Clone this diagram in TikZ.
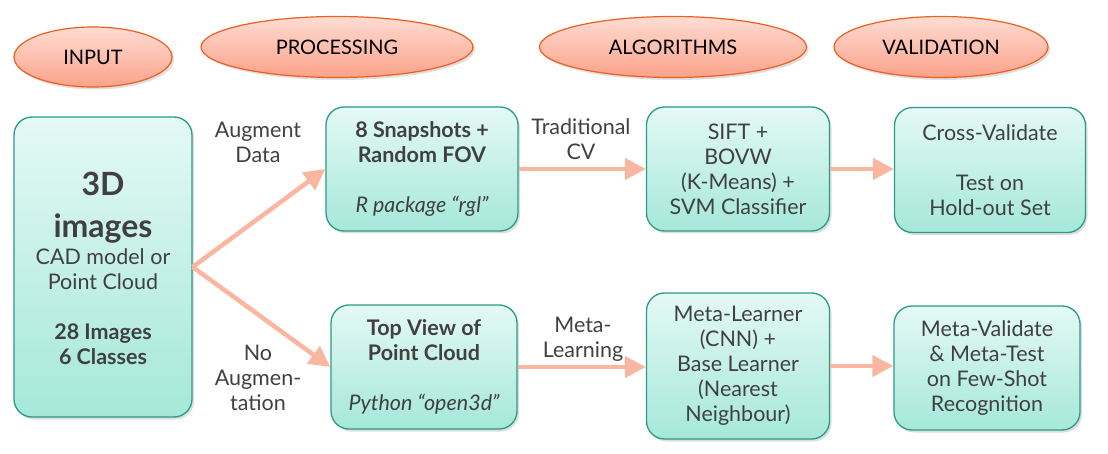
\documentclass[tikz,border=0pt]{standalone}
\usepackage{fontspec}
\setmainfont{Lato}
\usetikzlibrary{shapes.geometric,shadows,arrows.meta}
\definecolor{boxtop}{HTML}{E4F9F5}
\definecolor{boxbot}{HTML}{A5E8D9}
\definecolor{boxline}{HTML}{2A9B86}
\definecolor{elltop}{HTML}{FFDCD3}
\definecolor{ellbot}{HTML}{FBA28A}
\definecolor{elline}{HTML}{EE5E1C}
\definecolor{arr}{HTML}{FBB6A1}
\definecolor{txt}{HTML}{404040}
\newcommand{\bigtxt}[1]{{\fontsize{32}{40}\selectfont\bfseries #1}}
\tikzset{
  stagebox/.style={rounded corners=18pt, draw=boxline, line width=1.3pt,
    top color=boxtop, bottom color=boxbot, align=center, text=txt,
    font=\fontsize{21.5}{25}\selectfont, inner sep=0pt,
    drop shadow={shadow xshift=2pt, shadow yshift=-2.5pt, opacity=0.25}},
  phase/.style={ellipse, draw=elline, line width=1.2pt, top color=elltop,
    bottom color=ellbot, text=black, font=\fontsize{20}{22}\selectfont,
    inner sep=0pt, drop shadow={shadow xshift=2pt, shadow yshift=-2.5pt, opacity=0.25}},
  lbl/.style={align=center, text=txt, font=\fontsize{21.5}{25}\selectfont, inner sep=0pt},
  flow/.style={draw=arr, line width=4.5pt, -{Triangle[length=21pt,width=21pt]}}
}
\begin{document}
\begin{tikzpicture}[x=1pt,y=-1pt]
\useasboundingbox (0,0) rectangle (1108,454);
% phase ellipses
\node[phase, minimum width=158pt, minimum height=60pt] (e1) at (93,57) {INPUT};
\node[phase, minimum width=272pt, minimum height=61pt] (e2) at (337,47) {PROCESSING};
\node[phase, minimum width=267pt, minimum height=61pt] (e3) at (673,47) {ALGORITHMS};
\node[phase, minimum width=214pt, minimum height=61pt] (e4) at (941,47) {VALIDATION};
% boxes
\node[stagebox, minimum width=178pt, minimum height=300pt] (inp) at (103,267) {};
\node[align=center, text=txt, font=\fontsize{21.5}{25}\selectfont, inner sep=0pt] (inptxt) at (103,268)
  {\bigtxt{3D}\\[17pt]\bigtxt{images}\\[2pt]CAD model or\\Point Cloud\\[25pt]\textbf{28 Images}\\\textbf{6 Classes}};
\node[stagebox, minimum width=192pt, minimum height=124pt] (p1) at (422,169)
  {\textbf{8 Snapshots +}\\\textbf{Random FOV}\\[25pt]\textit{R package “rgl”}};
\node[stagebox, minimum width=186pt, minimum height=124pt] (p2) at (424,367)
  {\textbf{Top View of}\\\textbf{Point Cloud}\\[25pt]\textit{Python “open3d”}};
\node[stagebox, minimum width=183pt, minimum height=124pt] (a1) at (738,169)
  {SIFT +\\BOVW\\(K-Means) +\\SVM Classifier};
\node[stagebox, minimum width=183pt, minimum height=146pt] (a2) at (738,366)
  {Meta-Learner\\(CNN) +\\Base Learner\\(Nearest\\Neighbour)};
\node[stagebox, minimum width=191pt, minimum height=125pt] (v1) at (990,170)
  {Cross-Validate\\[25pt]Test on\\Hold-out Set};
\node[stagebox, minimum width=186pt, minimum height=124pt] (v2) at (987,368)
  {Meta-Validate\\\& Meta-Test\\on Few-Shot\\Recognition};
% connectors
\draw[flow] (inp.east) -- (p1.west);
\draw[flow] (inp.east) -- (p2.west);
\draw[flow] (p1.east) -- (a1.west);
\draw[flow] (a1.east) -- (v1.west |- a1.east);
\draw[flow] (p2.east) -- (a2.west |- p2.east);
\draw[flow] (a2.east) -- (v2.west |- a2.east);
% labels
\node[lbl] (l1) at (258,142) {Augment\\Data};
\node[lbl] (l2) at (258,378) {No\\Augmen-\\tation};
\node[lbl] (l3) at (581,139) {Traditional\\CV};
\node[lbl] (l4) at (583,339) {Meta-\\Learning};
\end{tikzpicture}
\end{document}
